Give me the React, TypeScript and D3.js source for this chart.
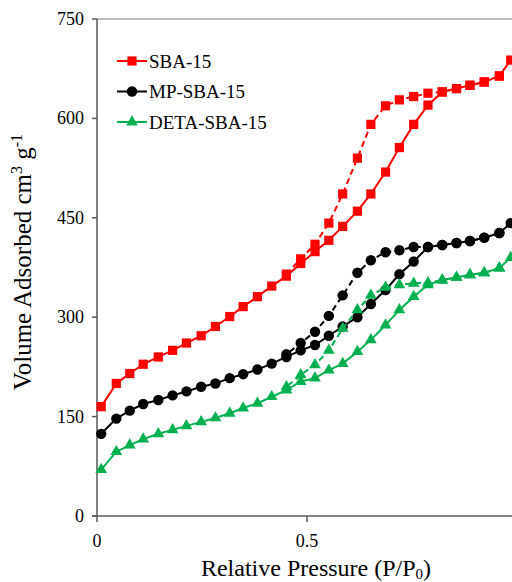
import React from 'react';
import { scaleLinear, line, symbol, symbolSquare, symbolCircle, symbolTriangle } from 'd3';

// relative pressure steps
const adsP = [0.01, 0.046, 0.078, 0.11, 0.146, 0.18, 0.213, 0.248, 0.282, 0.316, 0.348, 0.382, 0.416, 0.451, 0.485,
	0.519, 0.552, 0.585, 0.62, 0.652, 0.687, 0.72, 0.754, 0.788, 0.822, 0.856, 0.888, 0.922, 0.958, 0.985];
const desP = [0.958, 0.922, 0.888, 0.856, 0.822, 0.788, 0.754, 0.72, 0.687, 0.652, 0.62, 0.585, 0.552, 0.519, 0.485, 0.451];

const sbaAds = [165, 200, 215, 229, 240, 250, 261, 272, 286, 301, 316, 331, 347, 362, 381,
	399, 416, 437, 460, 486, 519, 556, 591, 620, 640, 645, 650, 655, 664, 688];
const sbaDes = [664, 655, 650, 645, 640, 638, 633, 628, 619, 591, 540, 486, 442, 410, 388, 365];

const mpAds = [124, 147, 159, 169, 175, 182, 188, 195, 200, 208, 214, 221, 230, 240, 250,
	258, 272, 286, 300, 320, 341, 365, 384, 406, 409, 412, 415, 420, 427, 442];
const mpDes = [427, 420, 415, 412, 409, 406, 406, 401, 398, 386, 367, 333, 302, 278, 261, 244];

const detaAds = [70, 97, 107, 116, 124, 130, 136, 142, 148, 155, 163, 170, 180, 190, 203,
	208, 220, 230, 248, 266, 288, 311, 331, 349, 356, 360, 364, 367, 374, 390];
const detaDes = [374, 367, 364, 360, 356, 352, 351, 349, 345, 333, 311, 283, 250, 228, 213, 195];

const yTicks = [0, 150, 300, 450, 600, 750];
const xTicks = [0, 0.5];

const series = [
	{ name: 'SBA-15', color: '#ff0000', shape: symbolSquare, size: 85, ads: sbaAds, des: sbaDes },
	{ name: 'MP-SBA-15', color: '#000000', shape: symbolCircle, size: 85, ads: mpAds, des: mpDes },
	{ name: 'DETA-SBA-15', color: '#00b050', shape: symbolTriangle, size: 60, ads: detaAds, des: detaDes },
];

const W = 512;
const H = 582;
const left = 97;
const top = 19;
const bottom = 516;
const font = 'Liberation Serif, Times New Roman, serif';

const App = () => {
	const x = scaleLinear().domain([0, 1]).range([left, left + 420]);
	const y = scaleLinear().domain([0, 750]).range([bottom, top]);

	const path = (ps: number[], vs: number[]) =>
		line<number>()
			.x((d, i) => x(ps[i]))
			.y((d) => y(d))(vs) || '';

	const marks = (ps: number[], vs: number[], s) => {
		const d = symbol(s.shape, s.size)() || '';
		return vs.map((v, i) => (
			<path key={i} d={d} fill={s.color} transform={'translate(' + x(ps[i]) + ',' + y(v) + ')'} />
		));
	};

	return (
		<svg width={W} height={H} style={{ position: 'absolute', left: 0, top: 0, background: '#fff', fontFamily: font }}>
			{/* frame */}
			<line x1={left} x2={W} y1={top} y2={top} stroke="#a6a6a6" strokeWidth={1.5} />
			<line x1={left} x2={left} y1={top} y2={bottom} stroke="#595959" strokeWidth={1.5} />
			<line x1={left - 5} x2={W} y1={bottom} y2={bottom} stroke="#595959" strokeWidth={1.5} />

			{yTicks.map((t) => (
				<g key={t}>
					<line x1={left - 5} x2={left} y1={y(t)} y2={y(t)} stroke="#595959" strokeWidth={1.5} />
					<text x={84} y={y(t) + 6} textAnchor="end" fontSize={18}>{t}</text>
				</g>
			))}
			{xTicks.map((t) => (
				<g key={t}>
					<line x1={x(t)} x2={x(t)} y1={bottom} y2={bottom + 6} stroke="#595959" strokeWidth={1.5} />
					<text x={x(t)} y={547} textAnchor="middle" fontSize={18}>{t}</text>
				</g>
			))}

			<text x={316} y={576} textAnchor="middle" fontSize={24}>
				Relative Pressure (P/P<tspan fontSize={15} dy={3}>0</tspan><tspan dy={-3}>)</tspan>
			</text>
			<text transform="translate(31,262) rotate(-90)" textAnchor="middle" fontSize={25}>
				Volume Adsorbed cm<tspan fontSize={16} dy={-9}>3</tspan><tspan dy={9}> g</tspan>
				<tspan fontSize={16} dy={-9}>-1</tspan>
			</text>

			{series.map((s) => (
				<g key={s.name}>
					<path d={path(desP, s.des)} fill="none" stroke={s.color} strokeWidth={2} strokeDasharray="6,4" />
					<path d={path(adsP, s.ads)} fill="none" stroke={s.color} strokeWidth={2} />
					{marks(desP, s.des, s)}
					{marks(adsP, s.ads, s)}
				</g>
			))}

			{series.map((s, i) => (
				<g key={s.name} transform={'translate(0,' + (61 + i * 30.5) + ')'}>
					<line x1={117} x2={147} y1={0} y2={0} stroke={s.color} strokeWidth={2} />
					<path d={symbol(s.shape, s.size)() || ''} fill={s.color} transform="translate(132,0)" />
					<text x={149} y={6.5} fontSize={19}>{s.name}</text>
				</g>
			))}
		</svg>
	);
};

export default App;
